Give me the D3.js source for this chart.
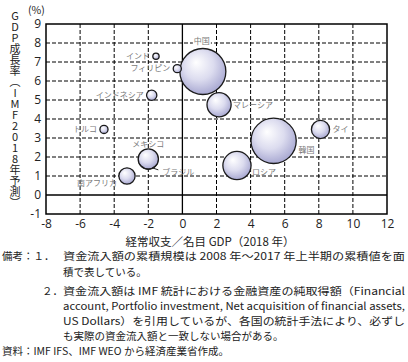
<!DOCTYPE html>
<html>
<head>
<meta charset="utf-8">
<script src="https://cdn.jsdelivr.net/npm/d3@7"></script>
<style>
  body { margin: 0; background: #fff; }
  svg text { font-family: "Noto Sans CJK JP", "Noto Sans", sans-serif; }
</style>
</head>
<body>
<div id="chart"></div>
<script>
// values
var countries = ["ブラジル", "中国", "インド", "フィリピン", "インドネシア", "マレーシア", "タイ", "韓国", "ロシア", "トルコ", "メキシコ", "南アフリカ"];
var caBalance = [-2.0, 1.2, -1.55, -0.3, -1.8, 2.15, 8.1, 5.35, 3.2, -4.6, -2.0, -3.25];   // 経常収支/名目GDP (%)
var gdpGrowth = [1.85, 6.5, 7.3, 6.65, 5.25, 4.75, 3.45, 2.85, 1.55, 3.45, 1.9, 1.0];     // GDP成長率 (%)
var inflow = [280, 1600, 30, 50, 80, 440, 250, 1550, 600, 50, 310, 200];                  // 資金流入額の累積規模
var xTicks = [-8, -6, -4, -2, 0, 2, 4, 6, 8, 10, 12];
var yTicks = [-1, 0, 1, 2, 3, 4, 5, 6, 7, 8, 9];

// label placement (px from bubble centre)
var labelPos = {
  "中国": {dx: -1, dy: -30, anchor: "middle", box: true},
  "インド": {dx: -6, dy: 0, anchor: "end"},
  "フィリピン": {dx: -7, dy: 0, anchor: "end"},
  "インドネシア": {dx: -8, dy: 0, anchor: "end"},
  "マレーシア": {dx: 14, dy: 0, anchor: "start"},
  "タイ": {dx: 12, dy: 0, anchor: "start"},
  "韓国": {dx: 25, dy: 9, anchor: "start", box: true},
  "ロシア": {dx: 15, dy: 7, anchor: "start"},
  "トルコ": {dx: -7, dy: 0, anchor: "end"},
  "メキシコ": {dx: -16, dy: -15, anchor: "start"},
  "ブラジル": {dx: 14, dy: 12, anchor: "start", leader: true},
  "南アフリカ": {dx: -10, dy: 7, anchor: "end"}
};

var W = 408, H = 362;
var svg = d3.select("#chart").append("svg")
    .attr("width", W).attr("height", H);

var x = d3.scaleLinear().domain([-8, 12]).range([46, 387]);
var y = d3.scaleLinear().domain([-1, 9]).range([214, 24]);
var r = d3.scaleSqrt().domain([0, 1600]).range([0, 23]);

var defs = svg.append("defs");
var grad = defs.append("radialGradient").attr("id", "bub")
    .attr("cx", "45%").attr("cy", "40%").attr("r", "60%")
    .attr("fx", "35%").attr("fy", "30%");
grad.append("stop").attr("offset", "0%").attr("stop-color", "#ffffff");
grad.append("stop").attr("offset", "55%").attr("stop-color", "#dcdcef");
grad.append("stop").attr("offset", "100%").attr("stop-color", "#a9a9d2");

// grid
var grid = svg.append("g");
grid.selectAll(".gx").data(xTicks.slice(1, -1)).enter().append("line")
    .attr("x1", d => x(d)).attr("x2", d => x(d))
    .attr("y1", y(-1)).attr("y2", y(9))
    .attr("stroke", "#000").attr("stroke-width", d => d === 0 ? 1.3 : 1)
    .attr("stroke-dasharray", d => d === 0 ? null : "4,2");
grid.selectAll(".gy").data(yTicks.slice(1, -1)).enter().append("line")
    .attr("x1", x(-8)).attr("x2", x(12))
    .attr("y1", d => y(d)).attr("y2", d => y(d))
    .attr("stroke", "#000").attr("stroke-width", d => d === 0 ? 1.3 : 1)
    .attr("stroke-dasharray", d => d === 0 ? null : "4,2");

svg.append("rect")
    .attr("x", x(-8)).attr("y", y(9))
    .attr("width", x(12) - x(-8)).attr("height", y(-1) - y(9))
    .attr("fill", "none").attr("stroke", "#000").attr("stroke-width", 1.5);

// axes
var xAxis = svg.append("g")
    .attr("transform", `translate(0, ${y(-1)})`)
    .call(d3.axisBottom(x).tickValues(xTicks).tickSize(0).tickPadding(5).tickFormat(d => String(d)));
xAxis.select(".domain").remove();
xAxis.selectAll("text").style("font-size", "12px").attr("fill", "#222")
    .style("font-family", "'Open Sans', sans-serif");

var yAxis = svg.append("g")
    .attr("transform", `translate(${x(-8)}, 0)`)
    .call(d3.axisLeft(y).tickValues(yTicks).tickSize(0).tickPadding(5).tickFormat(d => String(d)));
yAxis.select(".domain").remove();
yAxis.selectAll("text").style("font-size", "12px").attr("fill", "#222")
    .style("font-family", "'Open Sans', sans-serif");

// bubbles
var data = countries.map((c, i) => ({name: c, x: caBalance[i], y: gdpGrowth[i], v: inflow[i]}));

svg.append("g").selectAll("circle").data(data).enter().append("circle")
    .attr("cx", d => x(d.x)).attr("cy", d => y(d.y))
    .attr("r", d => r(d.v))
    .attr("fill", "url(#bub)")
    .attr("stroke", "#1a1a1a").attr("stroke-width", 1.3);

// labels
var lab = svg.append("g");
data.forEach(function(d) {
  var p = labelPos[d.name];
  var cx = x(d.x) + p.dx, cy = y(d.y) + p.dy;
  if (p.leader) {
    lab.append("line")
      .attr("x1", x(d.x) + 4).attr("y1", y(d.y) + 8)
      .attr("x2", cx - 4).attr("y2", cy - 2)
      .attr("stroke", "#222").attr("stroke-width", 1);
  }
  var t = lab.append("text")
      .attr("x", cx).attr("y", cy)
      .attr("dy", "0.35em")
      .attr("text-anchor", p.anchor)
      .style("font-size", "8px")
      .attr("fill", "#7a7a7a")
      .text(d.name);
  if (p.box) {
    var b = t.node().getBBox();
    lab.insert("rect", "text")
      .attr("x", b.x - 1).attr("y", b.y + 1)
      .attr("width", b.width + 2).attr("height", b.height - 2)
      .attr("fill", "#fff");
  }
});

// axis titles
svg.append("text")
    .attr("x", 28).attr("y", 14)
    .style("font-size", "10.5px").attr("fill", "#222")
    .text("(%)");

svg.append("text")
    .attr("x", 15).attr("y", 10)
    .style("writing-mode", "vertical-rl")
    .style("text-orientation", "upright")
    .style("font-size", "11px")
    .attr("fill", "#222")
    .text("GDP成長率（IMF2018年予測）");

svg.append("text")
    .attr("x", 210).attr("y", 246)
    .attr("text-anchor", "middle")
    .style("font-size", "11.5px").attr("fill", "#222")
    .text("経常収支／名目 GDP（2018 年）");

// notes
var notes = [
  {x: 2, y: 260, t: "備考：１．"},
  {x: 63, y: 260, t: "資金流入額の累積規模は 2008 年～2017 年上半期の累積値を面", w: 342},
  {x: 63, y: 276, t: "積で表している。"},
  {x: 42, y: 295, t: "２．"},
  {x: 63, y: 295, t: "資金流入額は IMF 統計における金融資産の純取得額（Financial", w: 342},
  {x: 63, y: 310, t: "account, Portfolio investment, Net acquisition of financial assets,", w: 342},
  {x: 63, y: 325, t: "US Dollars）を引用しているが、各国の統計手法により、必ずし", w: 342},
  {x: 63, y: 340, t: "も実際の資金流入額と一致しない場合がある。"},
  {x: 2, y: 355, t: "資料：IMF IFS、IMF WEO から経済産業省作成。"}
];
svg.append("g").selectAll("text").data(notes).enter().append("text")
    .attr("x", d => d.x).attr("y", d => d.y)
    .attr("textLength", d => d.w || null)
    .attr("lengthAdjust", "spacingAndGlyphs")
    .style("font-size", "10.5px").attr("fill", "#222")
    .text(d => d.t);
</script>
</body>
</html>
